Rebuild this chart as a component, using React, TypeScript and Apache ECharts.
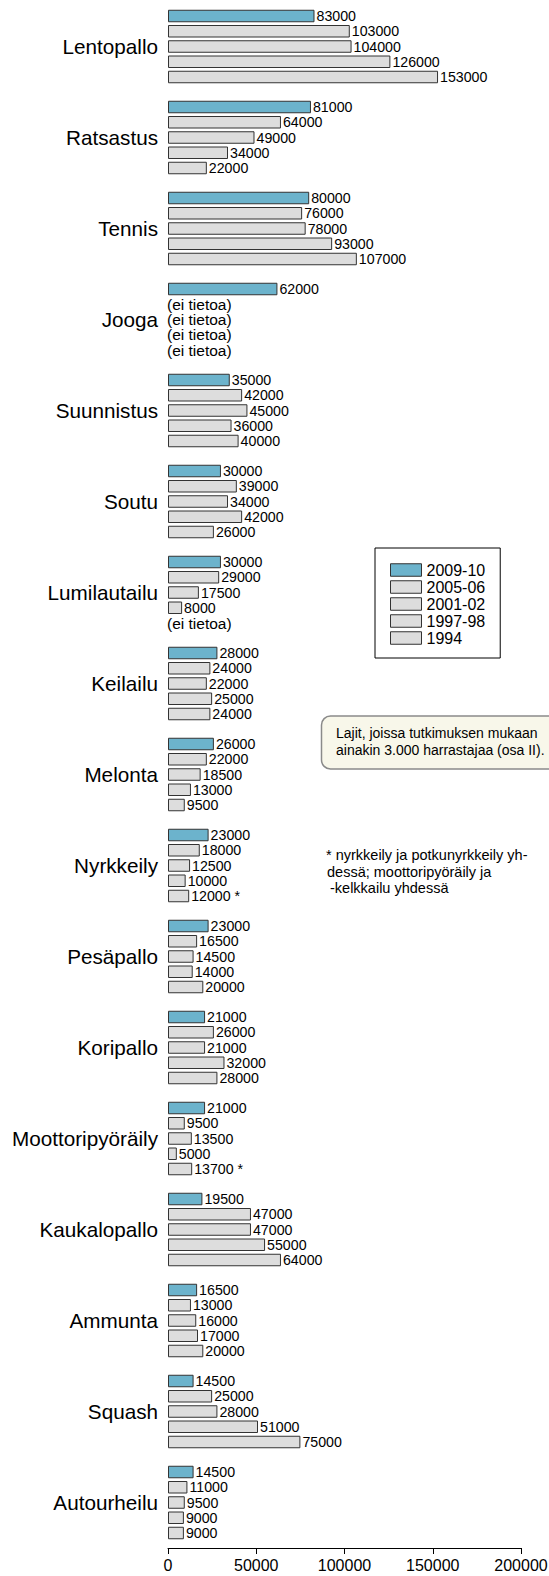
import React, { useEffect, useRef } from 'react';
import * as echarts from 'echarts';

const categories = ['Lentopallo', 'Ratsastus', 'Tennis', 'Jooga', 'Suunnistus', 'Soutu', 'Lumilautailu', 'Keilailu', 'Melonta', 'Nyrkkeily', 'Pesäpallo', 'Koripallo', 'Moottoripyöräily', 'Kaukalopallo', 'Ammunta', 'Squash', 'Autourheilu'];
const seriesNames = ['2009-10', '2005-06', '2001-02', '1997-98', '1994'];
const v2009 = [83000, 81000, 80000, 62000, 35000, 30000, 30000, 28000, 26000, 23000, 23000, 21000, 21000, 19500, 16500, 14500, 14500];
const v2005 = [103000, 64000, 76000, null, 42000, 39000, 29000, 24000, 22000, 18000, 16500, 26000, 9500, 47000, 13000, 25000, 11000];
const v2001 = [104000, 49000, 78000, null, 45000, 34000, 17500, 22000, 18500, 12500, 14500, 21000, 13500, 47000, 16000, 28000, 9500];
const v1997 = [126000, 34000, 93000, null, 36000, 42000, 8000, 25000, 13000, 10000, 14000, 32000, 5000, 55000, 17000, 51000, 9000];
const v1994 = [153000, 22000, 107000, null, 40000, 26000, null, 24000, 9500, 12000, 20000, 28000, 13700, 64000, 20000, 75000, 9000];
const starred1994 = ['Nyrkkeily', 'Moottoripyöräily'];
const noDataText = '(ei tietoa)';
const noteLines = ['Lajit, joissa tutkimuksen mukaan', 'ainakin 3.000 harrastajaa (osa II).'];
const footLines = ['* nyrkkeily ja potkunyrkkeily yh-', 'dessä; moottoripyöräily ja', '-kelkkailu yhdessä'];

const FONT = '"Liberation Sans", Arial, Helvetica, sans-serif';

export default function App() {
  const ref = useRef<HTMLDivElement>(null);
  useEffect(() => {
    if (!ref.current) return;
    const chart = echarts.init(ref.current, null, { renderer: 'svg' });
    const allVals = [v2009, v2005, v2001, v1997, v1994];
    const mk = (vals: (number | null)[], k: number) =>
      vals.map((v, i) => {
        if (v === null) {
          return {
            value: 0,
            itemStyle: { borderWidth: 0, color: 'rgba(0,0,0,0)' },
            label: { formatter: noDataText, fontSize: 15.5, distance: -1 },
          };
        }
        if (k === 4 && starred1994.includes(categories[i])) {
          return { value: v, label: { formatter: v + ' *' } };
        }
        return v;
      });
    const series = seriesNames.map((name, k) => ({
      name,
      type: 'bar',
      data: mk(allVals[k], k),
      barWidth: 12.5,
      barGap: '22%',
      itemStyle: { color: k === 0 ? '#6cb3cc' : '#dddddd', borderColor: '#333', borderWidth: 1 },
      label: { show: true, position: 'right', distance: 2, fontSize: 14.2, color: '#000', fontFamily: FONT },
    }));
    chart.setOption({
      animation: false,
      textStyle: { fontFamily: FONT },
      grid: { left: 168, right: 28, top: 1, bottom: 28, containLabel: false, outerBoundsMode: 'none' },
      xAxis: {
        type: 'value', min: 0, max: 200000, interval: 50000,
        axisLine: { show: true, lineStyle: { color: '#000', width: 1 } },
        axisTick: { show: true, length: 6, lineStyle: { color: '#000' } },
        axisLabel: { fontSize: 16, color: '#000', margin: 9, fontFamily: FONT, formatter: (v: number) => String(v) },
        splitLine: { show: false },
      },
      yAxis: {
        type: 'category', data: categories, inverse: true,
        axisLine: { show: false }, axisTick: { show: false },
        axisLabel: { fontSize: 20.7, color: '#000', margin: 10, fontFamily: FONT },
      },
      legend: {
        orient: 'vertical', left: 375, top: 548, data: seriesNames,
        itemWidth: 31, itemHeight: 12.5, itemGap: 1,
        padding: [14, 15, 12, 15], borderColor: '#000', borderWidth: 1,
        textStyle: { fontSize: 16, color: '#000', fontFamily: FONT },
        icon: 'rect',
        itemStyle: { borderColor: '#333', borderWidth: 1 },
      },
      graphic: [
        { type: 'rect', shape: { x: 321.5, y: 716, width: 260, height: 53, r: 9 }, style: { fill: '#f8f7ea', stroke: '#8a8a8a', lineWidth: 1.5 } },
        { type: 'text', x: 336, y: 733, style: { text: noteLines[0], fontSize: 14, fill: '#000', fontFamily: FONT, verticalAlign: 'middle' } },
        { type: 'text', x: 336, y: 750, style: { text: noteLines[1], fontSize: 14, fill: '#000', fontFamily: FONT, verticalAlign: 'middle' } },
        { type: 'text', x: 326, y: 855, style: { text: footLines[0], fontSize: 14.5, fill: '#000', fontFamily: FONT, verticalAlign: 'middle' } },
        { type: 'text', x: 327, y: 871.5, style: { text: footLines[1], fontSize: 14.5, fill: '#000', fontFamily: FONT, verticalAlign: 'middle' } },
        { type: 'text', x: 330, y: 888, style: { text: footLines[2], fontSize: 14.5, fill: '#000', fontFamily: FONT, verticalAlign: 'middle' } },
      ],
      series,
    });
    return () => chart.dispose();
  }, []);
  return <div ref={ref} style={{ position: 'absolute', left: 0, top: 0, width: 549, height: 1576 }} />;
}
